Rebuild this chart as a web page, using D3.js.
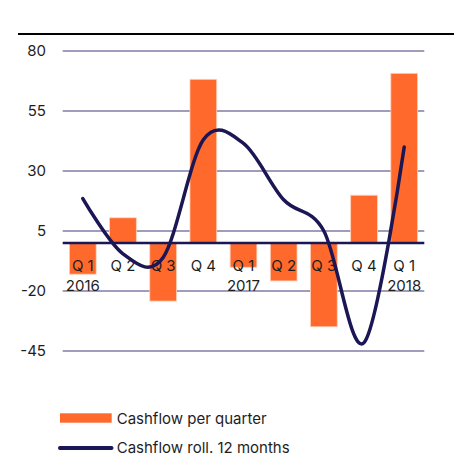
<!DOCTYPE html>
<html>
<head>
<meta charset="utf-8">
<script src="https://cdn.jsdelivr.net/npm/d3@7"></script>
<style>
  body { margin: 0; background: #fff; }
  text { font-family: Inter, "Noto Sans", sans-serif; fill: #1e1e1e; }
</style>
</head>
<body>
<script>
const width = 454;
const height = 456;

// Data
const quarters = ["Q 1", "Q 2", "Q 3", "Q 4", "Q 1", "Q 2", "Q 3", "Q 4", "Q 1"];
const years = ["2016", "", "", "", "2017", "", "", "", "2018"];
const cashflowQuarter = [-13, 10.5, -24.2, 68.2, -10.1, -15.8, -34.9, 19.9, 70.7];
const cashflowRolling = [18.5, -4.5, -6, 43, 41.5, 18, 5, -41.5, 40];
const yTicks = [80, 55, 30, 5, -20, -45];

const svg = d3.select("body")
  .append("svg")
  .attr("width", width)
  .attr("height", height);

// Scales
const x = d3.scaleBand()
  .domain(d3.range(quarters.length))
  .range([62.7, 424.3])
  .paddingInner(0.335)
  .paddingOuter(0.1675);

const y = d3.scaleLinear()
  .domain([-45, 80])
  .range([351, 51]);

// Top rule
svg.append("line")
  .attr("x1", 18).attr("x2", width)
  .attr("y1", 34).attr("y2", 34)
  .attr("stroke", "#000")
  .attr("stroke-width", 2.2);

// Grid + y labels
const grid = svg.append("g");
grid.selectAll("line")
  .data(yTicks)
  .enter()
  .append("line")
  .attr("x1", 62.7).attr("x2", 424.3)
  .attr("y1", d => y(d)).attr("y2", d => y(d))
  .attr("stroke", "#807da6")
  .attr("stroke-width", 1.3);

grid.selectAll("text")
  .data(yTicks)
  .enter()
  .append("text")
  .attr("x", 46)
  .attr("y", d => y(d))
  .attr("dy", "0.36em")
  .attr("text-anchor", "end")
  .attr("font-size", 15)
  .text(d => d);

// Bars
svg.append("g")
  .selectAll("rect")
  .data(cashflowQuarter)
  .enter()
  .append("rect")
  .attr("x", (d, i) => x(i))
  .attr("width", x.bandwidth())
  .attr("y", d => y(Math.max(0, d)))
  .attr("height", d => Math.abs(y(d) - y(0)))
  .attr("fill", "#ff692b")
  .attr("stroke", "#ffcfb8")
  .attr("stroke-width", 0.8);

// Zero line
svg.append("line")
  .attr("x1", 62.7).attr("x2", 424.3)
  .attr("y1", y(0)).attr("y2", y(0))
  .attr("stroke", "#1b1654")
  .attr("stroke-width", 2.4);

// Category labels
const cx = i => x(i) + x.bandwidth() / 2;
const labels = svg.append("g");
labels.selectAll(".q")
  .data(quarters)
  .enter()
  .append("text")
  .attr("class", "q")
  .attr("x", (d, i) => cx(i))
  .attr("y", 270.7)
  .attr("text-anchor", "middle")
  .attr("font-size", 15)
  .text(d => d);

labels.selectAll(".yr")
  .data(years)
  .enter()
  .append("text")
  .attr("class", "yr")
  .attr("x", (d, i) => cx(i))
  .attr("y", 291)
  .attr("text-anchor", "middle")
  .attr("font-size", 15)
  .text(d => d);

// Rolling line
const line = d3.line()
  .x((d, i) => cx(i))
  .y(d => y(d))
  .curve(d3.curveCardinal.tension(0));

svg.append("path")
  .datum(cashflowRolling)
  .attr("d", line)
  .attr("fill", "none")
  .attr("stroke", "#1b1654")
  .attr("stroke-width", 3.5)
  .attr("stroke-linecap", "round");

// Legend
const legend = svg.append("g");
legend.append("rect")
  .attr("x", 60).attr("y", 413.3)
  .attr("width", 51.7).attr("height", 9.4)
  .attr("fill", "#ff692b");
legend.append("text")
  .attr("x", 116.7).attr("y", 424)
  .attr("font-size", 15)
  .text("Cashflow per quarter");

legend.append("line")
  .attr("x1", 60).attr("x2", 111.5)
  .attr("y1", 448).attr("y2", 448)
  .attr("stroke", "#1b1654")
  .attr("stroke-width", 4)
  .attr("stroke-linecap", "round");
legend.append("text")
  .attr("x", 116.7).attr("y", 453.3)
  .attr("font-size", 15)
  .text("Cashflow roll. 12 months");
</script>
</body>
</html>
